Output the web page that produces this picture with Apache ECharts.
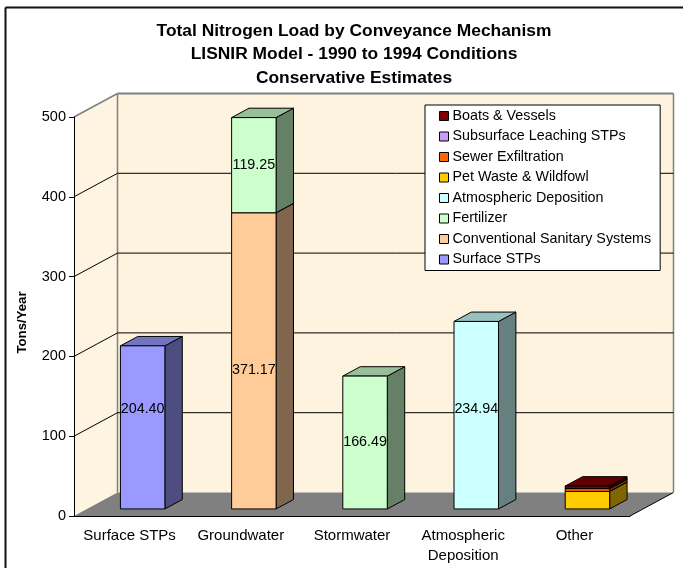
<!DOCTYPE html>
<html>
<head>
<meta charset="utf-8">
<title>Total Nitrogen Load by Conveyance Mechanism</title>
<script src="https://cdn.jsdelivr.net/npm/echarts@6/dist/echarts.min.js"></script>
<style>
  html, body { margin: 0; padding: 0; background: #fff; }
  #chart { width: 683px; height: 568px; }
</style>
</head>
<body>
<div id="chart"></div>
<script>
const categories = ['Surface STPs', 'Groundwater', 'Stormwater', 'Atmospheric\nDeposition', 'Other']
const yTicks = [0, 100, 200, 300, 400, 500]

// values, tons/year
const surfaceStps = [204.40, 0, 0, 0, 0]
const sanitarySystems = [0, 371.17, 0, 0, 0]
const fertilizer = [0, 119.25, 166.49, 0, 0]
const atmospheric = [0, 0, 0, 234.94, 0]
const petWaste = [0, 0, 0, 0, 22]
const sewerExfiltration = [0, 0, 0, 0, 3.5]
const subsurfaceLeaching = [0, 0, 0, 0, 0.2]
const boats = [0, 0, 0, 0, 3]

// bottom of the stack first
const layers = [
  { name: 'Surface STPs', values: surfaceStps, color: '#9999FF', side: '#4D4D80', top: '#7373BF' },
  { name: 'Conventional Sanitary Systems', values: sanitarySystems, color: '#FFCC99', side: '#80664D', top: '#BF9973' },
  { name: 'Fertilizer', values: fertilizer, color: '#CCFFCC', side: '#668066', top: '#99BF99' },
  { name: 'Atmospheric Deposition', values: atmospheric, color: '#CCFFFF', side: '#668080', top: '#99BFBF' },
  { name: 'Pet Waste & Wildfowl', values: petWaste, color: '#FFCC00', side: '#806600', top: '#BF9900' },
  { name: 'Sewer Exfiltration', values: sewerExfiltration, color: '#FF6600', side: '#803300', top: '#BF4D00' },
  { name: 'Subsurface Leaching STPs', values: subsurfaceLeaching, color: '#CC99FF', side: '#664D80', top: '#9973BF' },
  { name: 'Boats & Vessels', values: boats, color: '#800000', side: '#400000', top: '#600000' },
]
const legendOrder = [
  'Boats & Vessels', 'Subsurface Leaching STPs', 'Sewer Exfiltration', 'Pet Waste & Wildfowl',
  'Atmospheric Deposition', 'Fertilizer', 'Conventional Sanitary Systems', 'Surface STPs',
]

// 3d look
const DEPTH_X = 43.5
const DEPTH_Y = 23.5
const BAR_RATIO = 0.4
const LABEL_FONT = '14.3px "Liberation Sans", Arial, sans-serif'
const labelNudge = { 'Surface STPs': -18, 'Conventional Sanitary Systems': 9, 'Atmospheric Deposition': -6 }

function poly(points, fill, stroke, width) {
  return {
    type: 'polygon',
    shape: { points },
    style: { fill, stroke: stroke || 'none', lineWidth: width || 0 },
  }
}

function line(x1, y1, x2, y2, stroke, width) {
  return { type: 'line', shape: { x1, y1, x2, y2 }, style: { stroke, lineWidth: width || 1 } }
}

function renderWalls(params, api) {
  const tick = api.value(0)
  const band = api.size([1, 0])[0]
  const left = api.coord([0, tick])[0] - band / 2
  const right = left + band * categories.length
  const y = api.coord([0, tick])[1]
  const children = []
  if (tick === 0) {
    const top = api.coord([0, yTicks[yTicks.length - 1]])[1]
    children.push(poly([[left, y], [left + DEPTH_X, y - DEPTH_Y], [left + DEPTH_X, top - DEPTH_Y], [left, top]], '#FDF4E2'))
    children.push(poly([[left + DEPTH_X, y - DEPTH_Y], [right + DEPTH_X, y - DEPTH_Y], [right + DEPTH_X, top - DEPTH_Y], [left + DEPTH_X, top - DEPTH_Y]], '#FDF3DE'))
    children.push(poly([[left, y], [right, y], [right + DEPTH_X, y - DEPTH_Y], [left + DEPTH_X, y - DEPTH_Y]], '#808080'))
    children.push(line(right, y, right + DEPTH_X, y - DEPTH_Y, '#000'))
    children.push(line(left + DEPTH_X, y - DEPTH_Y, left + DEPTH_X, top - DEPTH_Y, '#808080', 1.5))
    children.push(line(right + DEPTH_X, y - DEPTH_Y, right + DEPTH_X, top - DEPTH_Y, '#808080', 1.5))
    children.push(line(left + DEPTH_X, top - DEPTH_Y, right + DEPTH_X, top - DEPTH_Y, '#808080', 2))
    children.push(line(left, top, left + DEPTH_X, top - DEPTH_Y, '#808080', 1.5))
  } else if (tick < yTicks[yTicks.length - 1]) {
    children.push(line(left, y, left + DEPTH_X, y - DEPTH_Y, '#000'))
    children.push(line(left + DEPTH_X, y - DEPTH_Y, right + DEPTH_X, y - DEPTH_Y, '#000'))
  }
  return { type: 'group', children }
}

function renderBlock(layer) {
  return function (params, api) {
    const cat = api.value(0)
    const base = api.value(1)
    const val = api.value(2)
    const band = api.size([1, 0])[0]
    const w = band * BAR_RATIO
    const bottom = api.coord([cat, base])
    const up = api.coord([cat, base + val])
    // the block sits 30% of the way into the floor and uses 40% of its depth
    const x0 = bottom[0] + DEPTH_X * 0.3 - w / 2
    const x1 = x0 + w
    const y0 = bottom[1] - DEPTH_Y * 0.3
    const y1 = up[1] - DEPTH_Y * 0.3
    const dx = DEPTH_X * BAR_RATIO
    const dy = DEPTH_Y * BAR_RATIO
    const children = [
      poly([[x1, y0], [x1 + dx, y0 - dy], [x1 + dx, y1 - dy], [x1, y1]], layer.side, '#000', 1),
      poly([[x0, y1], [x1, y1], [x1 + dx, y1 - dy], [x0 + dx, y1 - dy]], layer.top, '#000', 1),
      poly([[x0, y0], [x1, y0], [x1, y1], [x0, y1]], layer.color, '#000', 1),
    ]
    if (val > 50) {
      children.push({
        type: 'text',
        style: {
          text: val.toFixed(2),
          x: (x0 + x1) / 2,
          y: (y0 + y1) / 2 + (labelNudge[layer.name] || 0),
          align: 'center',
          verticalAlign: 'middle',
          font: LABEL_FONT,
          fill: '#000',
        },
      })
    }
    return { type: 'group', children }
  }
}

const running = categories.map(() => 0)
const blockSeries = layers.map((layer) => {
  const data = []
  layer.values.forEach((v, i) => {
    if (v > 0) data.push([i, running[i], v])
    running[i] += v
  })
  return {
    name: layer.name,
    type: 'custom',
    z: 3,
    renderItem: renderBlock(layer),
    encode: { x: 0, y: 2 },
    itemStyle: { color: layer.color },
    data,
  }
})

const chart = echarts.init(document.getElementById('chart'), null, { renderer: 'canvas' })
chart.setOption({
  animation: false,
  backgroundColor: '#fff',
  textStyle: { fontFamily: '"Liberation Sans", Arial, sans-serif', color: '#000' },
  title: {
    text: 'Total Nitrogen Load by Conveyance Mechanism\nLISNIR Model - 1990 to 1994 Conditions\nConservative Estimates',
    left: 354,
    top: 19,
    padding: 0,
    textAlign: 'center',
    textStyle: { fontSize: 17.4, fontWeight: 'bold', lineHeight: 23.5, color: '#000' },
  },
  legend: {
    data: legendOrder,
    orient: 'vertical',
    left: 425,
    top: 105,
    padding: [4, 9, 4, 14],
    itemWidth: 9,
    itemHeight: 9,
    itemGap: 6.5,
    icon: 'rect',
    selectedMode: false,
    backgroundColor: '#fff',
    borderColor: '#000',
    borderWidth: 1,
    itemStyle: { borderColor: '#000', borderWidth: 1 },
    textStyle: { fontSize: 14.3, color: '#000', padding: [0, 0, 0, -1] },
  },
  grid: { left: 74, right: 53, top: 117, bottom: 52 },
  xAxis: {
    type: 'category',
    data: categories,
    z: 5,
    axisLine: { lineStyle: { color: '#000', width: 1 } },
    axisTick: { length: 6, lineStyle: { color: '#000' } },
    axisLabel: { fontSize: 15, color: '#000', lineHeight: 20, margin: 10, interval: 0 },
  },
  yAxis: {
    type: 'value',
    min: 0,
    max: 500,
    interval: 100,
    z: 5,
    name: 'Tons/Year',
    nameLocation: 'middle',
    nameGap: 45,
    nameTextStyle: { fontSize: 13.2, fontWeight: 'bold', color: '#000', padding: [0, 12, 0, 0] },
    axisLine: { show: true, lineStyle: { color: '#000', width: 1 } },
    axisTick: { show: true, length: 5, lineStyle: { color: '#000' } },
    axisLabel: { fontSize: 14.5, color: '#000', margin: 8 },
    splitLine: { show: false },
  },
  graphic: [
    { type: 'line', shape: { x1: 5.5, y1: 7.5, x2: 5.5, y2: 568 }, style: { stroke: '#111', lineWidth: 2 }, silent: true },
    { type: 'line', shape: { x1: 5.5, y1: 7.5, x2: 683, y2: 7.5 }, style: { stroke: '#111', lineWidth: 2 }, silent: true },
  ],
  series: [
    { type: 'custom', name: 'walls', z: 1, silent: true, renderItem: renderWalls, encode: { x: 1, y: 0 }, data: yTicks.map((t) => [t, 0]) },
    ...blockSeries,
  ],
})
window.addEventListener('resize', () => chart.resize())
</script>
</body>
</html>
